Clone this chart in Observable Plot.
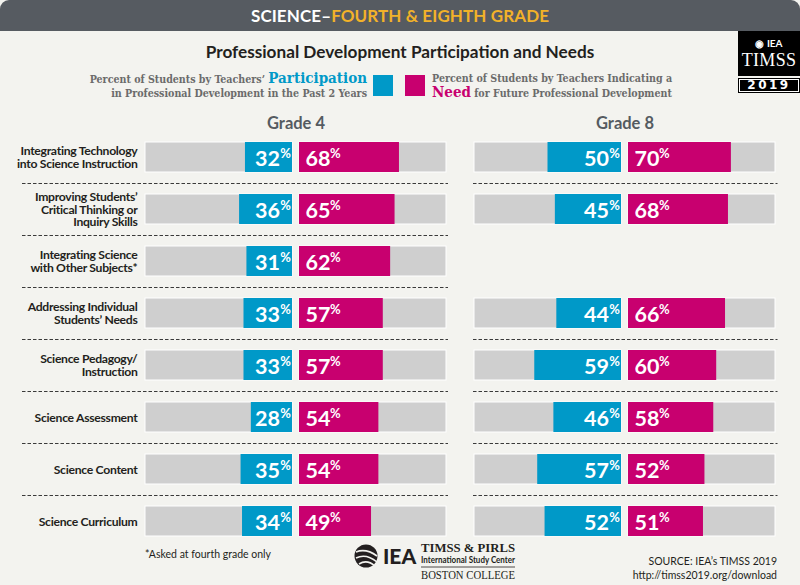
<!DOCTYPE html>
<html>
<head>
<meta charset="utf-8">
<script src="https://cdn.jsdelivr.net/npm/d3@7"></script>
<script src="https://cdn.jsdelivr.net/npm/@observablehq/plot@0.6"></script>
<style>
  html, body { margin: 0; padding: 0; }
  body { width: 800px; height: 585px; background: #f3f3ef; position: relative; overflow: hidden; font-family: Lato, "Open Sans", sans-serif; }
  .abs { position: absolute; }
  #header { left: 0; top: 0; width: 800px; height: 31px; background: #565b61; border-radius: 9px 9px 0 0; color: #fff; text-align: center; font: bold 17px/31px Lato, sans-serif; letter-spacing: 0.1px; }
  #header span { color: #f2b229; }
  #title { left: 0; width: 800px; top: 41px; text-align: center; font: bold 17.2px Lato, sans-serif; color: #231f20; }
  .leg { font-family: "DejaVu Serif Condensed", "DejaVu Serif", serif; font-weight: bold; font-size: 10.6px; color: #6b6b6b; line-height: 14px; }
  #legL { right: 433px; top: 71px; text-align: right; }
  #legR { left: 432px; top: 71px; text-align: left; }
  #legL b { color: #0099c8; font-size: 15px; }
  #legR b { color: #c8006f; font-size: 15px; }
  .sw { width: 20px; height: 21px; top: 75px; }
  #logo { left: 738px; top: 31px; width: 62px; height: 45px; background: #000; color: #fff; text-align: center; }
  #logo .iea { font: bold 10px Lato, sans-serif; margin-top: 6px; }
  #logo .timss { font: 18px "Liberation Serif", serif; margin-top: 1px; letter-spacing: 0.3px; }
  #year { left: 738px; top: 78px; width: 62px; height: 15px; background: #000; color: #fff; text-align: center; font: bold 12px/15px "DejaVu Sans", sans-serif; letter-spacing: 2.5px; box-shadow: inset 0 0 0 1px #000, inset 0 0 0 2px #fff; }
  #note { left: 145px; top: 548px; font: 10.5px "Liberation Sans Narrow", Lato, sans-serif; color: #231f20; }
  #source { right: 23px; top: 554px; text-align: right; font: 10.5px/14px "Liberation Sans Narrow", Lato, sans-serif; color: #231f20; }
  #center { left: 353px; top: 539px; }
  #chart { left: 0; top: 100px; }
  #chart svg { overflow: visible; }
  g[aria-label="y-axis tick label"] text { font-weight: bold; letter-spacing: -0.3px; }
</style>
</head>
<body>
<div id="header" class="abs">SCIENCE–<span>FOURTH &amp; EIGHTH GRADE</span></div>
<div id="title" class="abs">Professional Development Participation and Needs</div>
<div id="legL" class="abs leg">Percent of Students by Teachers’ <b>Participation</b><br>in Professional Development in the Past 2 Years</div>
<div class="abs sw" style="left:373px;background:#0099c8"></div>
<div class="abs sw" style="left:405px;background:#c8006f"></div>
<div id="legR" class="abs leg">Percent of Students by Teachers Indicating a<br><b>Need</b> for Future Professional Development</div>
<div id="logo" class="abs"><div class="iea">◉ IEA</div><div class="timss">TIMSS</div></div>
<div id="year" class="abs">2019</div>
<div id="chart" class="abs"></div>
<div id="note" class="abs">*Asked at fourth grade only</div>
<div id="center" class="abs">
  <svg width="180" height="44">
    <circle cx="13" cy="17" r="11.5" fill="#231f20"/>
    <path d="M3 13 Q13 9 24 17 M3 19 Q13 14 24 23 M6 25 Q14 20 22 27" stroke="#f3f3ef" stroke-width="1.6" fill="none"/>
    <text x="30" y="25" font-family="Lato, sans-serif" font-weight="900" font-size="21" fill="#231f20">IEA</text>
    <text x="68" y="13" font-family="Liberation Serif, serif" font-weight="bold" font-size="13.5" textLength="94" lengthAdjust="spacingAndGlyphs" fill="#231f20">TIMSS &amp; PIRLS</text>
    <text x="68" y="24" font-family="Liberation Sans Narrow, Lato, sans-serif" font-weight="bold" font-size="9.5" textLength="94" lengthAdjust="spacingAndGlyphs" fill="#231f20">International Study Center</text>
    <line x1="68" x2="162" y1="28" y2="28" stroke="#231f20" stroke-width="0.8"/>
    <text x="68" y="40" font-family="Liberation Serif, serif" font-size="11.5" textLength="94" lengthAdjust="spacingAndGlyphs" fill="#231f20">BOSTON COLLEGE</text>
  </svg>
</div>
<div id="source" class="abs">SOURCE: IEA’s TIMSS 2019<br>http://timss2019.org/download</div>

<script>
// ---- data ----
const grades = ["Grade 4", "Grade 8"];
const topics = [
  "Integrating Technology into Science Instruction",
  "Improving Students’ Critical Thinking or Inquiry Skills",
  "Integrating Science with Other Subjects*",
  "Addressing Individual Students’ Needs",
  "Science Pedagogy/ Instruction",
  "Science Assessment",
  "Science Content",
  "Science Curriculum"
];
const topicLabels = [
  "Integrating Technology\ninto Science Instruction",
  "Improving Students’\nCritical Thinking or\nInquiry Skills",
  "Integrating Science\nwith Other Subjects*",
  "Addressing Individual\nStudents’ Needs",
  "Science Pedagogy/\nInstruction",
  "Science Assessment",
  "Science Content",
  "Science Curriculum"
];
const grade4Participation = [32, 36, 31, 33, 33, 28, 35, 34];
const grade4Need          = [68, 65, 62, 57, 57, 54, 54, 49];
const grade8Participation = [50, 45, null, 44, 59, 46, 57, 52];
const grade8Need          = [70, 68, null, 66, 60, 58, 52, 51];
const scaleMax = 100;

// ---- table ----
const table = [];
topics.forEach((t, i) => {
  table.push({grade: grades[0], topic: t, part: grade4Participation[i], need: grade4Need[i]});
  if (grade8Participation[i] != null)
    table.push({grade: grades[1], topic: t, part: grade8Participation[i], need: grade8Need[i]});
});
const sep4 = topics.slice(0, 7).map(t => ({grade: grades[0], topic: t}));
const sep8 = [0, 3, 4, 5, 6].map(i => ({grade: grades[1], topic: topics[i]}));
const labelOf = new Map(topics.map((t, i) => [t, topicLabels[i]]));

const BLUE = "#0099c8", MAG = "#c8006f", GRAY = "#cfcfcf";
const gap = 3.5;

const numFont = {fontFamily: "Lato, sans-serif", fontWeight: "bold", fill: "white"};

const chart = Plot.plot({
  width: 800,
  height: 450,
  marginLeft: 145,
  marginRight: 24,
  marginTop: 30,
  marginBottom: 2,
  style: {background: "transparent", fontFamily: "Lato, sans-serif", color: "#231f20"},
  fx: {domain: grades, paddingInner: 0.085, paddingOuter: 0, axis: null},
  x: {domain: [-scaleMax, scaleMax], insetLeft: gap, insetRight: gap, axis: null},
  y: {domain: topics, paddingInner: 0.42, paddingOuter: 0.21, axis: null},
  marks: [
    Plot.barX(table, {fx: "grade", y: "topic", x1: () => -scaleMax, x2: 0, dx: -gap, fill: GRAY, stroke: "#fff", strokeWidth: 1}),
    Plot.barX(table, {fx: "grade", y: "topic", x1: 0, x2: () => scaleMax, dx: gap, fill: GRAY, stroke: "#fff", strokeWidth: 1}),
    Plot.barX(table, {fx: "grade", y: "topic", x1: d => -d.part, x2: 0, dx: -gap, fill: BLUE}),
    Plot.barX(table, {fx: "grade", y: "topic", x1: 0, x2: "need", dx: gap, fill: MAG}),
    Plot.ruleY(sep4, {fx: "grade", y: "topic", dy: 26, stroke: "#3a3a3a", strokeWidth: 1.2, strokeDasharray: "3.5,2", insetLeft: -123, insetRight: -2}),
    Plot.ruleY(sep8, {fx: "grade", y: "topic", dy: 26, stroke: "#3a3a3a", strokeWidth: 1.2, strokeDasharray: "3.5,2", insetLeft: -1, insetRight: -2.5}),
    Plot.text(table, {fx: "grade", y: "topic", x: 0, text: d => String(d.part), textAnchor: "end", dx: -16, dy: 1.5, fontSize: 21.5, ...numFont}),
    Plot.text(table, {fx: "grade", y: "topic", x: 0, text: () => "%", textAnchor: "end", dx: -5, dy: -4, fontSize: 13, ...numFont}),
    Plot.text(table, {fx: "grade", y: "topic", x: 0, text: d => String(d.need), textAnchor: "start", dx: 9.5, dy: 1.5, fontSize: 21.5, ...numFont}),
    Plot.text(table, {fx: "grade", y: "topic", x: 0, text: () => "%", textAnchor: "start", dx: 34, dy: -4, fontSize: 13, ...numFont}),
    Plot.text(grades.map(g => ({grade: g})), {fx: "grade", text: "grade", frameAnchor: "top", dy: -13, fontSize: 16.5, fontWeight: "bold", fill: "#555b61"}),
    Plot.axisY({tickSize: 0, tickPadding: 8, fontSize: 12.2, lineHeight: 1.03, label: null, tickFormat: t => labelOf.get(t), fill: "#231f20"})
  ]
});
document.getElementById("chart").appendChild(chart);
</script>
</body>
</html>
